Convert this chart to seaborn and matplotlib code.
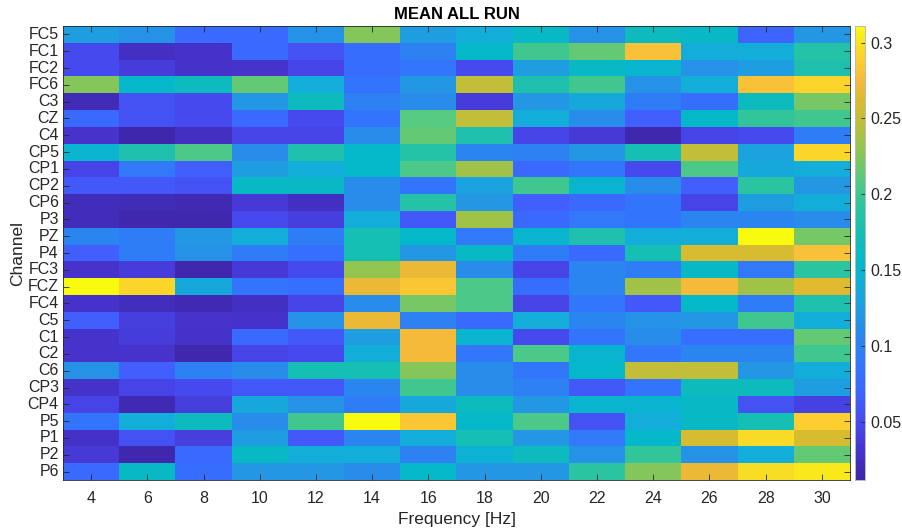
import matplotlib
matplotlib.use("Agg")
import numpy as np
import pandas as pd
import seaborn as sns
import matplotlib.pyplot as plt
from matplotlib.colors import LinearSegmentedColormap

plt.rcParams['font.family'] = ['Liberation Sans', 'DejaVu Sans']

freqs = [4, 6, 8, 10, 12, 14, 16, 18, 20, 22, 24, 26, 28, 30]
channels = ["FC5", "FC1", "FC2", "FC6", "C3", "CZ", "C4", "CP5", "CP1", "CP2",
            "CP6", "P3", "PZ", "P4", "FC3", "FCZ", "FC4", "C5", "C1", "C2",
            "C6", "CP3", "CP4", "P5", "P1", "P2", "P6"]

FC5 = [0.125, 0.115, 0.075, 0.075, 0.115, 0.225, 0.125, 0.140, 0.160, 0.115, 0.165, 0.160, 0.070, 0.120]
FC1 = [0.050, 0.025, 0.028, 0.075, 0.055, 0.078, 0.100, 0.155, 0.200, 0.215, 0.280, 0.140, 0.140, 0.185]
FC2 = [0.050, 0.038, 0.028, 0.030, 0.045, 0.078, 0.088, 0.050, 0.125, 0.160, 0.150, 0.115, 0.125, 0.180]
FC6 = [0.225, 0.155, 0.165, 0.215, 0.140, 0.085, 0.120, 0.250, 0.180, 0.200, 0.115, 0.140, 0.280, 0.292]
C3 = [0.020, 0.055, 0.050, 0.120, 0.165, 0.100, 0.110, 0.038, 0.120, 0.135, 0.095, 0.078, 0.165, 0.220]
CZ = [0.075, 0.055, 0.050, 0.075, 0.050, 0.085, 0.210, 0.250, 0.140, 0.110, 0.065, 0.155, 0.195, 0.200]
C4 = [0.030, 0.013, 0.025, 0.045, 0.045, 0.110, 0.215, 0.180, 0.045, 0.035, 0.015, 0.045, 0.050, 0.095]
CP5 = [0.150, 0.180, 0.205, 0.110, 0.180, 0.155, 0.185, 0.105, 0.100, 0.120, 0.175, 0.250, 0.130, 0.293]
CP1 = [0.045, 0.090, 0.065, 0.125, 0.140, 0.155, 0.205, 0.235, 0.075, 0.088, 0.050, 0.205, 0.135, 0.140]
CP2 = [0.060, 0.060, 0.055, 0.160, 0.160, 0.110, 0.085, 0.130, 0.200, 0.150, 0.110, 0.065, 0.190, 0.120]
CP6 = [0.022, 0.020, 0.018, 0.035, 0.025, 0.110, 0.185, 0.120, 0.065, 0.075, 0.085, 0.045, 0.125, 0.140]
P3 = [0.022, 0.015, 0.015, 0.050, 0.040, 0.140, 0.060, 0.235, 0.075, 0.090, 0.085, 0.105, 0.105, 0.110]
PZ = [0.105, 0.095, 0.120, 0.140, 0.095, 0.175, 0.155, 0.090, 0.150, 0.180, 0.140, 0.140, 0.310, 0.220]
P4 = [0.065, 0.095, 0.115, 0.095, 0.080, 0.175, 0.120, 0.160, 0.095, 0.075, 0.175, 0.260, 0.260, 0.280]
FC3 = [0.030, 0.038, 0.015, 0.035, 0.050, 0.230, 0.270, 0.110, 0.045, 0.105, 0.095, 0.160, 0.090, 0.190]
FCZ = [0.310, 0.293, 0.135, 0.085, 0.080, 0.270, 0.283, 0.205, 0.078, 0.105, 0.235, 0.275, 0.235, 0.265]
FC4 = [0.028, 0.023, 0.018, 0.025, 0.045, 0.110, 0.220, 0.205, 0.045, 0.088, 0.060, 0.155, 0.095, 0.180]
C5 = [0.065, 0.040, 0.030, 0.028, 0.115, 0.270, 0.100, 0.075, 0.140, 0.105, 0.115, 0.120, 0.200, 0.140]
C1 = [0.030, 0.038, 0.028, 0.075, 0.060, 0.125, 0.275, 0.150, 0.050, 0.085, 0.110, 0.080, 0.080, 0.215]
C2 = [0.030, 0.030, 0.015, 0.045, 0.050, 0.140, 0.275, 0.088, 0.205, 0.150, 0.088, 0.105, 0.105, 0.200]
C6 = [0.115, 0.065, 0.100, 0.110, 0.175, 0.175, 0.225, 0.110, 0.088, 0.155, 0.250, 0.250, 0.120, 0.140]
CP3 = [0.028, 0.045, 0.050, 0.060, 0.060, 0.105, 0.200, 0.110, 0.100, 0.060, 0.085, 0.165, 0.165, 0.125]
CP4 = [0.045, 0.018, 0.040, 0.135, 0.115, 0.095, 0.135, 0.165, 0.120, 0.150, 0.150, 0.160, 0.055, 0.042]
P5 = [0.085, 0.140, 0.165, 0.110, 0.200, 0.311, 0.283, 0.155, 0.205, 0.055, 0.140, 0.160, 0.175, 0.288]
P1 = [0.027, 0.055, 0.040, 0.125, 0.060, 0.105, 0.140, 0.175, 0.120, 0.090, 0.155, 0.260, 0.295, 0.260]
P2 = [0.035, 0.015, 0.075, 0.160, 0.140, 0.140, 0.100, 0.145, 0.165, 0.115, 0.195, 0.115, 0.140, 0.215]
P6 = [0.075, 0.160, 0.078, 0.120, 0.120, 0.110, 0.155, 0.120, 0.120, 0.190, 0.225, 0.270, 0.298, 0.302]

rows = [FC5, FC1, FC2, FC6, C3, CZ, C4, CP5, CP1, CP2, CP6, P3, PZ, P4,
        FC3, FCZ, FC4, C5, C1, C2, C6, CP3, CP4, P5, P1, P2, P6]

df = pd.DataFrame(rows, index=channels, columns=[str(f) for f in freqs])

parula = LinearSegmentedColormap.from_list("parula_like", [
    (0.00, "#3E26A8"), (0.06, "#4533CC"), (0.12, "#4748EC"), (0.18, "#4060FE"),
    (0.24, "#3373FD"), (0.30, "#2D82F2"), (0.36, "#2396E4"), (0.42, "#14ABDA"),
    (0.48, "#04B8CA"), (0.54, "#14BEB6"), (0.60, "#2CC4A0"), (0.66, "#52CA82"),
    (0.72, "#8AC654"), (0.78, "#B8C03A"), (0.84, "#DCBA2E"), (0.88, "#F6B93C"),
    (0.92, "#FDCB31"), (0.96, "#F7DF22"), (1.00, "#F9FB0E")], N=256)

W, H = 902, 532
fig = plt.figure(figsize=(W / 100, H / 100), dpi=100)
ax = fig.add_axes([63 / W, 1 - 480 / H, (850 - 63) / W, (480 - 26) / H])
cax = fig.add_axes([855 / W, 1 - 480 / H, 10 / W, (480 - 26) / H])

sns.heatmap(df, ax=ax, cmap=parula, vmin=0.0115, vmax=0.311, cbar_ax=cax,
            linewidths=0, xticklabels=True, yticklabels=True)

dark = "#262626"
ax.tick_params(axis="both", direction="in", top=True, right=True, length=4,
               width=0.6, color=dark, labelcolor=dark, labelsize=11.5)
ax.tick_params(axis="y", rotation=0, pad=3)
ax.tick_params(axis="x", rotation=0, pad=8)
for s in ax.spines.values():
    s.set_visible(True)
    s.set_color(dark)
    s.set_linewidth(0.6)
ax.set_xlabel("Frequency [Hz]", fontsize=12.5, color=dark, labelpad=4)
ax.set_ylabel("Channel", fontsize=12.5, color=dark, labelpad=2)
ax.set_title("MEAN ALL RUN", fontsize=12, fontweight="bold", color="black", pad=5)

cax.set_yticks([0.05, 0.1, 0.15, 0.2, 0.25, 0.3])
cax.set_yticklabels(["0.05", "0.1", "0.15", "0.2", "0.25", "0.3"])
cax.tick_params(direction="in", length=3, width=0.6, color=dark, labelcolor=dark,
                labelsize=11.5, pad=4)
for s in cax.spines.values():
    s.set_visible(True)
    s.set_color("#bbbbbb")
    s.set_linewidth(0.6)

fig.savefig("out.png", dpi=100)
